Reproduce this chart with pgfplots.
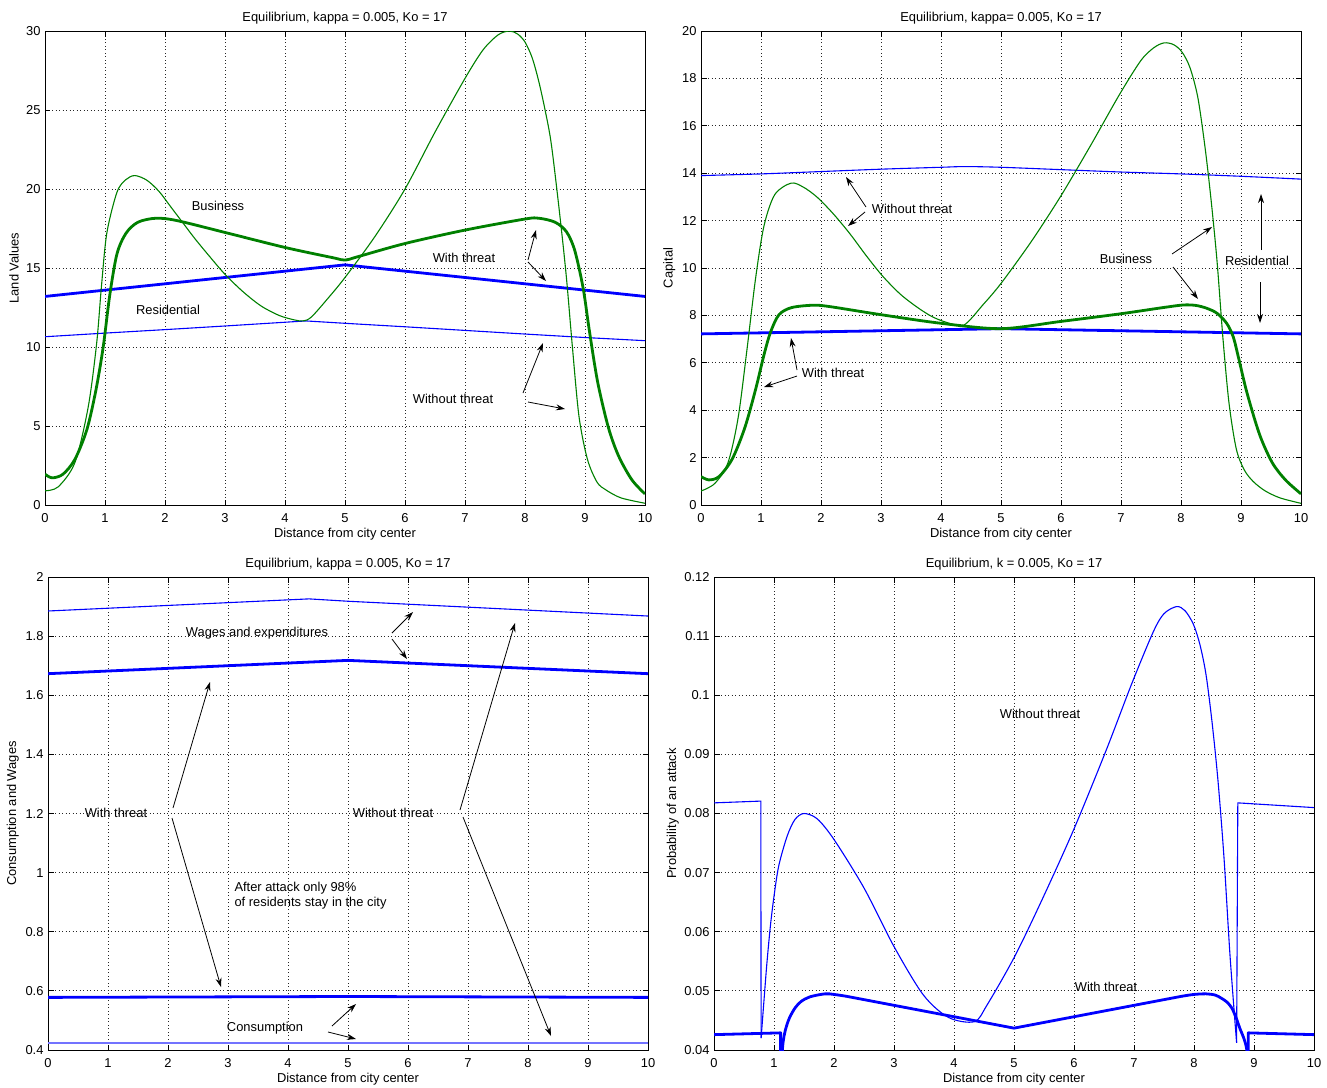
\documentclass[border=0pt]{standalone}
\usepackage{fontspec}
\setmainfont{Liberation Sans}
\usepackage{pgfplots}
\pgfplotsset{compat=1.18}
\usetikzlibrary{arrows.meta}

\definecolor{mgreen}{RGB}{0,128,0}
\definecolor{mblue}{RGB}{0,0,255}

\pgfplotsset{
  mat/.style={
    scale only axis, width=600pt, height=474pt,
    xmin=0, xmax=10, xtick={0,1,...,10},
    no markers,
    grid=major,
    major grid style={black!85, line width=0.9pt, dash pattern=on 0.9pt off 2.6pt},
    axis line style={black, line width=1pt},
    tick style={black, line width=0.9pt},
    major tick length=5.5pt,
    tick align=inside, xtick pos=both, ytick pos=both,
    xlabel={Distance from city center},
    xlabel style={at={(axis description cs:0.5,-0.061)}, anchor=center},
    title style={at={(axis description cs:0.5,1.031)}, anchor=center, yshift=-8pt},
    xticklabel style={yshift=-4pt},
    /pgf/number format/assume math mode=true,
    scaled ticks=false,
  },
  lthin/.style={line width=1.1pt},
  lthick/.style={line width=2.8pt, line join=round},
}
\tikzset{arr/.style={-{Stealth[length=9pt,width=6pt]}, line width=0.8pt, black}}

\begin{document}
\fontsize{12.9}{15.5}\selectfont
\begin{tikzpicture}
\path[use as bounding box] (0pt,0pt) rectangle (1327pt,-1087pt);

% ---- top left: land values
\begin{axis}[mat, at={(45pt,-31pt)}, anchor=north west,
  ymin=0, ymax=30, ytick={0,5,...,30},
  ylabel={Land Values},
  ylabel style={at={(axis description cs:-0.0517,0.5)}, anchor=center},
  title={Equilibrium, kappa = 0.005, Ko = 17}]
\addplot[mblue, lthin] coordinates {(0,10.65)(1,10.88)(2,11.1)(3,11.33)(4.35,11.65)(5,11.5)(6,11.28)(7,11.05)(8,10.82)(9,10.6)(10,10.4)};
\addplot[mblue, lthick] coordinates {(0,13.2)(1,13.6)(2,14.0)(3,14.4)(4,14.8)(5,15.2)(6,14.8)(7,14.4)(8,14.0)(9,13.6)(10,13.2)};
\addplot[mgreen, lthin, smooth] coordinates {
  (0,0.9)(0.22,1.15)(0.5,2.7)(0.72,6.2)(0.86,10.2)(0.94,13.8)(1.03,17.2)(1.2,19.8)(1.35,20.6)(1.5,20.85)
  (1.7,20.55)(1.9,19.85)(2.1,18.85)(2.3,17.85)(2.5,16.85)(2.75,15.7)(3.0,14.6)(3.3,13.5)(3.6,12.6)
  (3.9,12.0)(4.15,11.72)(4.3,11.65)(4.44,11.9)(4.72,13.1)(5.0,14.4)(5.5,17.0)(6.0,20.0)(6.5,23.6)
  (7.0,27.0)(7.3,28.8)(7.55,29.75)(7.74,30.0)(7.88,29.8)(8.0,29.3)(8.12,28.3)(8.23,26.8)(8.34,24.9)
  (8.44,22.8)(8.58,18.35)(8.69,14.4)(8.79,10.0)(8.9,5.6)(9.04,2.9)(9.2,1.45)(9.35,0.95)(9.6,0.45)(10,0.11)};
\addplot[mgreen, lthick, smooth] coordinates {
  (0,1.95)(0.12,1.72)(0.3,1.95)(0.5,2.9)(0.7,4.8)(0.85,7.3)(0.97,10.0)(1.08,13.3)(1.2,15.9)(1.35,17.2)
  (1.55,17.9)(1.85,18.15)(2.2,18.0)(3.0,17.25)(4.0,16.3)(4.8,15.65)(5.0,15.5)(5.2,15.7)(6.0,16.55)
  (7.0,17.4)(8.0,18.1)(8.23,18.15)(8.5,17.9)(8.69,17.3)(8.83,16.1)(8.97,13.7)(9.07,11.1)(9.21,7.8)
  (9.39,4.9)(9.56,3.1)(9.78,1.6)(10,0.7)};
\end{axis}

% ---- top right: capital
\begin{axis}[mat, at={(701pt,-31pt)}, anchor=north west,
  ymin=0, ymax=20, ytick={0,2,...,20},
  ylabel={Capital},
  ylabel style={at={(axis description cs:-0.0528,0.5)}, anchor=center},
  title={Equilibrium, kappa= 0.005, Ko = 17}]
\addplot[mblue, lthin, smooth] coordinates {(0,13.9)(1,13.97)(2,14.07)(3,14.17)(4,14.25)(4.4,14.28)(5,14.25)(6,14.15)(7,14.05)(8,13.97)(9,13.87)(10,13.75)};
\addplot[mblue, lthick] coordinates {(0,7.22)(2.5,7.33)(5,7.44)(7.5,7.33)(10,7.22)};
\addplot[mgreen, lthin, smooth] coordinates {
  (0,0.59)(0.23,0.91)(0.45,1.79)(0.62,3.7)(0.77,6.64)(0.91,9.57)(1.05,11.78)(1.23,13.1)(1.5,13.58)
  (1.7,13.42)(1.93,13.0)(2.2,12.3)(2.48,11.45)(2.76,10.5)(3.03,9.65)(3.32,8.9)(3.6,8.35)(3.85,7.95)
  (4.1,7.7)(4.38,7.59)(4.7,8.45)(5.0,9.35)(5.5,11.1)(6.0,13.05)(6.5,15.2)(6.97,17.3)(7.33,18.75)
  (7.55,19.3)(7.72,19.5)(7.88,19.42)(8.02,19.1)(8.15,18.45)(8.28,17.2)(8.4,15.1)(8.5,12.9)(8.6,10.3)
  (8.7,7.0)(8.8,4.3)(8.92,2.38)(9.05,1.5)(9.2,1.0)(9.4,0.6)(9.65,0.3)(10,0.07)};
\addplot[mgreen, lthick, smooth] coordinates {
  (0,1.2)(0.13,1.06)(0.3,1.2)(0.52,1.94)(0.73,3.26)(0.91,4.88)(1.05,6.34)(1.16,7.3)(1.3,8.03)
  (1.51,8.33)(1.87,8.43)(2.15,8.37)(3.0,8.03)(3.99,7.67)(5.0,7.44)(5.98,7.74)(6.97,8.06)(7.7,8.33)
  (8.04,8.44)(8.25,8.42)(8.43,8.3)(8.6,8.09)(8.76,7.67)(8.87,7.1)(8.96,6.2)(9.1,4.73)(9.31,2.97)
  (9.52,1.79)(9.74,1.06)(10,0.47)};
\end{axis}

% ---- bottom left: consumption and wages
\begin{axis}[mat, at={(48pt,-577pt)}, anchor=north west, height=473pt,
  ymin=0.4, ymax=2, ytick={0.4,0.6,0.8,1,1.2,1.4,1.6,1.8,2},
  yticklabels={0.4,0.6,0.8,1,1.2,1.4,1.6,1.8,2},
  ylabel={Consumption and Wages},
  ylabel style={at={(axis description cs:-0.0588,0.5)}, anchor=center},
  title={Equilibrium, kappa = 0.005, Ko = 17}]
\addplot[mblue, lthin] coordinates {(0,1.885)(4.35,1.926)(5,1.918)(10,1.868)};
\addplot[mblue, lthick] coordinates {(0,1.673)(5,1.718)(10,1.673)};
\addplot[mblue, lthick] coordinates {(0,0.578)(5,0.581)(10,0.578)};
\addplot[mblue!55, line width=1.8pt] coordinates {(0,0.4235)(10,0.4235)};
\end{axis}

% ---- bottom right: probability of an attack
\begin{axis}[mat, at={(714pt,-577pt)}, anchor=north west, height=473pt,
  ymin=0.04, ymax=0.12, ytick={0.04,0.05,0.06,0.07,0.08,0.09,0.1,0.11,0.12},
  yticklabels={0.04,0.05,0.06,0.07,0.08,0.09,0.1,0.11,0.12},
  ylabel={Probability of an attack},
  ylabel style={at={(axis description cs:-0.0688,0.5)}, anchor=center},
  title={Equilibrium, k = 0.005, Ko = 17}]
% without threat
\addplot[mblue, lthin] coordinates {(0,0.0818)(0.78,0.0821)(0.785,0.042)};
\addplot[mblue, lthin, smooth] coordinates {
  (0.785,0.042)(0.83,0.048)(0.88,0.0545)(0.94,0.061)(1.0,0.066)(1.08,0.0712)(1.22,0.0762)(1.35,0.079)
  (1.5,0.080)(1.72,0.0791)(2.0,0.0756)(2.5,0.0674)(3.0,0.0575)(3.49,0.0493)(3.91,0.0455)(4.34,0.0448)
  (4.55,0.0476)(5.01,0.0558)(5.48,0.0657)(6.0,0.0774)(6.54,0.0908)(6.96,0.1019)(7.32,0.1107)
  (7.5,0.1138)(7.71,0.115)(7.85,0.1143)(7.99,0.112)(8.1,0.1085)(8.2,0.1035)(8.3,0.0955)(8.4,0.0855)
  (8.5,0.0725)(8.6,0.056)(8.71,0.0412)};
\addplot[mblue, lthin] coordinates {(8.71,0.0412)(8.73,0.0818)(10,0.081)};
% with threat
\addplot[mblue, lthick] coordinates {(0,0.0426)(1.11,0.0429)(1.112,0.033)};
\addplot[mblue, lthick, smooth] coordinates {
  (1.115,0.033)(1.14,0.040)(1.17,0.0425)(1.21,0.0441)(1.26,0.0455)(1.35,0.0471)(1.45,0.0482)
  (1.6,0.049)(1.85,0.0495)(2.0,0.0494)(2.2,0.0491)};
\addplot[mblue, lthick] coordinates {(2.2,0.0491)(5.0,0.0437)(7.8,0.0491)};
\addplot[mblue, lthick, smooth] coordinates {
  (7.8,0.0491)(8.0,0.0494)(8.2,0.0495)(8.35,0.0493)(8.45,0.0488)(8.55,0.0481)(8.63,0.0471)
  (8.7,0.0455)(8.77,0.0435)(8.83,0.042)(8.88,0.040)(8.9,0.036)};
\addplot[mblue, lthick] coordinates {(8.9,0.036)(8.905,0.0429)(10,0.0426)};
\end{axis}

% ---- annotations (picture coordinates, pixels of the reference)
\begin{scope}[x=1pt, y=-1pt]
\node at (218,206) {Business};
\node at (168,310) {Residential};
\node at (464,258) {With threat};
\node at (453,399) {Without threat};
\draw[arr] (528,260) -- (536,230);
\draw[arr] (528,262) -- (546,281);
\draw[arr] (523,393) -- (543,343);
\draw[arr] (528,402) -- (565,409);

\node at (912,209) {Without threat};
\draw[arr] (866,207) -- (846,177);
\draw[arr] (865,212) -- (848,226);
\node at (833,373) {With threat};
\draw[arr] (797,370) -- (791,338);
\draw[arr] (797,376) -- (764,387);
\node at (1126,259) {Business};
\draw[arr] (1172,254) -- (1212,227);
\draw[arr] (1173,267) -- (1198,299);
\node at (1257,261) {Residential};
\draw[arr] (1261,250) -- (1261,194);
\draw[arr] (1260,282) -- (1260,323);

\node at (257,633) {Wages and expenditures};
\draw[arr] (392,633) -- (413,612);
\draw[arr] (392,639) -- (407,659);
\node at (116,813) {With threat};
\draw[arr] (173,808) -- (210,682);
\draw[arr] (172,818) -- (221,987);
\node at (393,813) {Without threat};
\draw[arr] (460,810) -- (515,623);
\draw[arr] (463,817) -- (551,1036);
\node[anchor=west] at (230,888) {After attack only 98\%};
\node[anchor=west] at (230,903) {of residents stay in the city};
\node at (265,1028) {Consumption};
\draw[arr] (332,1026) -- (356,1004);
\draw[arr] (328,1032) -- (356,1039);

\node at (1040,714) {Without threat};
\node at (1106,987) {With threat};
\end{scope}
\end{tikzpicture}
\end{document}
